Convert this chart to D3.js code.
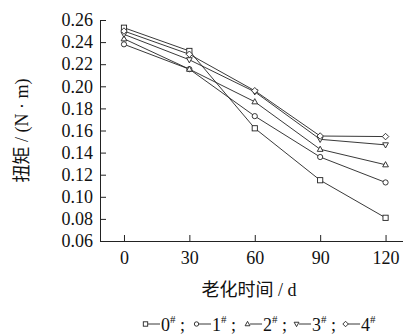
<!DOCTYPE html>
<html>
<head>
<meta charset="utf-8">
<script src="https://cdn.jsdelivr.net/npm/d3@7"></script>
<style>
body{margin:0;background:#fff}
</style>
</head>
<body>
<div id="chart"></div>
<script>
// aging time (d)
var days = [0, 30, 60, 90, 120]
// torque (N·m) per sample
var s0 = [0.253, 0.232, 0.162, 0.115, 0.081]
var s1 = [0.238, 0.2155, 0.173, 0.136, 0.113]
var s2 = [0.243, 0.2155, 0.186, 0.143, 0.129]
var s3 = [0.247, 0.224, 0.195, 0.152, 0.147]
var s4 = [0.250, 0.229, 0.196, 0.155, 0.1545]
var names = ["0", "1", "2", "3", "4"]
var yTicks = [0.06, 0.08, 0.10, 0.12, 0.14, 0.16, 0.18, 0.20, 0.22, 0.24, 0.26]
var xTicks = [0, 30, 60, 90, 120]

var FONT = "'Liberation Serif', 'Noto Sans CJK SC', serif"
var width = 403, height = 336
var margin = {top:20, right:0, left:100, bottom:95}

var series = [s0, s1, s2, s3, s4]
var shapes = ["square", "circle", "up", "down", "diamond"]

var svg = d3.select("#chart").append("svg")
    .attr("width", width).attr("height", height)
    .style("font-family", FONT)

var x = d3.scaleLinear().domain([-11, 128]).range([margin.left, width - margin.right])
var y = d3.scaleLinear().domain([0.06, 0.26]).range([height - margin.bottom, margin.top])

// ejes
var ejeX = d3.axisBottom(x).tickValues(xTicks).tickSizeInner(-6).tickSizeOuter(0).tickPadding(10)
var ejeY = d3.axisLeft(y).tickValues(yTicks).tickSizeInner(-6).tickSizeOuter(0).tickPadding(7)
    .tickFormat(d3.format(".2f"))

svg.append("g")
    .attr("transform", "translate(0," + y(0.06) + ")")
    .call(ejeX)
    .attr("font-family", null)
    .call(g => g.selectAll("text").attr("font-size", 18).attr("fill", "#111").style("font-family", FONT))
svg.append("g")
    .attr("transform", "translate(" + margin.left + ",0)")
    .call(ejeY)
    .attr("font-family", null)
    .call(g => g.selectAll("text").attr("font-size", 18).attr("fill", "#111").style("font-family", FONT))
svg.selectAll(".domain, .tick line").attr("stroke", "#222").attr("stroke-width", 1)

// titulos
svg.append("text")
    .attr("transform", "translate(28," + ((y(0.06) + y(0.26)) / 2) + ") rotate(-90)")
    .attr("text-anchor", "middle")
    .attr("font-size", 18)
    .attr("fill", "#111")
    .style("font-family", FONT)
    .text("扭矩 / (N · m)")

svg.append("text")
    .attr("x", 249).attr("y", 296)
    .attr("text-anchor", "middle")
    .attr("font-size", 18)
    .attr("fill", "#111")
    .style("font-family", FONT)
    .text("老化时间 / d")

// marcadores
function marker(g, shape, cx, cy, r) {
    if (shape == "square") {
        g.append("rect").attr("x", cx - r).attr("y", cy - r).attr("width", 2 * r).attr("height", 2 * r)
    } else if (shape == "circle") {
        g.append("circle").attr("cx", cx).attr("cy", cy).attr("r", r)
    } else {
        var pts
        if (shape == "up") pts = [[cx, cy - r * 1.2], [cx + r * 1.1, cy + r * 0.8], [cx - r * 1.1, cy + r * 0.8]]
        if (shape == "down") pts = [[cx, cy + r * 1.2], [cx + r * 1.1, cy - r * 0.8], [cx - r * 1.1, cy - r * 0.8]]
        if (shape == "diamond") pts = [[cx, cy - r * 1.25], [cx + r * 1.25, cy], [cx, cy + r * 1.25], [cx - r * 1.25, cy]]
        g.append("polygon").attr("points", pts.map(p => p.join(",")).join(" "))
    }
}

var linea = d3.line().x((d, i) => x(days[i])).y(d => y(d))

series.forEach((s, k) => {
    svg.append("path")
        .attr("d", linea(s))
        .attr("fill", "none")
        .attr("stroke", "#222")
        .attr("stroke-width", 0.9)
})

series.forEach((s, k) => {
    var g = svg.append("g").attr("fill", "#fff").attr("stroke", "#222").attr("stroke-width", 0.9)
    s.forEach((v, i) => marker(g, shapes[k], x(days[i]), y(v), 2.6))
})

// leyenda
var lx = 143, ly = 331
names.forEach((n, k) => {
    var g = svg.append("g")
    var gm = g.append("g").attr("fill", "#fff").attr("stroke", "#222").attr("stroke-width", 0.9)
    marker(gm, shapes[k], lx + 2.5, ly - 7, 2.2)
    g.append("line")
        .attr("x1", lx + 5).attr("x2", lx + 17)
        .attr("y1", ly - 7).attr("y2", ly - 7)
        .attr("stroke", "#222").attr("stroke-width", 0.9)
    var t = g.append("text").attr("x", lx + 18).attr("y", ly).attr("font-size", 18)
        .attr("fill", "#111").style("font-family", FONT)
    t.append("tspan").text(n)
    t.append("tspan").attr("dy", -8).attr("font-size", 11).text("#")
    if (k < names.length - 1) {
        t.append("tspan").attr("dy", 8).attr("font-size", 18).text(k < 2 ? " ; " : " ;")
    }
    lx = lx + 18 + t.node().getComputedTextLength() + (k < 2 ? 9 : 7)
})
</script>
</body>
</html>
